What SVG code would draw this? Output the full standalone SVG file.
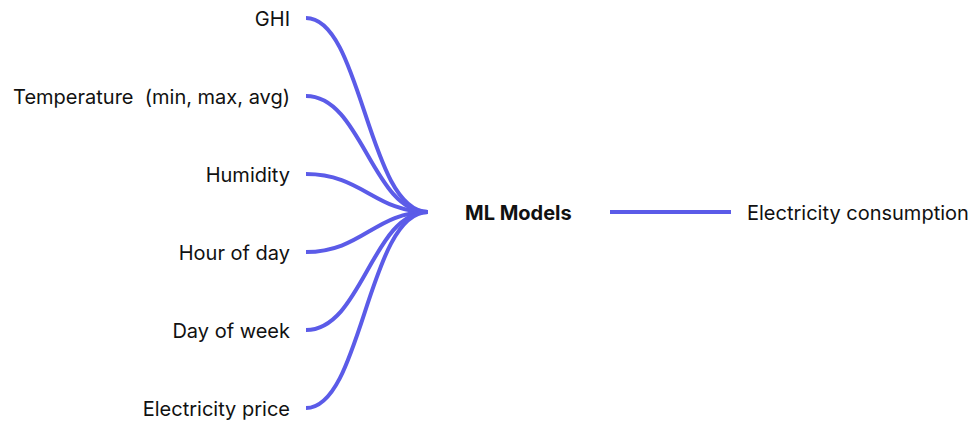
<svg xmlns="http://www.w3.org/2000/svg" width="971" height="423" viewBox="0 0 971 423">
<style>
text{font-family:Inter,"Liberation Sans",sans-serif;font-size:20px;fill:#111;white-space:pre}
.in{text-anchor:end}
.b{font-weight:700}
.c{fill:none;stroke:#5B5BE8;stroke-width:4;stroke-linecap:butt}
</style>
<rect width="971" height="423" fill="#fff"/>
<g id="connectors">
<path class="c" d="M306,18 C362,18 368,212 428,212"/>
<path class="c" d="M306,96 C362,96 372,212 428,212"/>
<path class="c" d="M306,174 C362,174 375,212 428,212"/>
<path class="c" d="M306,252 C362,252 375,212 428,212"/>
<path class="c" d="M306,330 C362,330 372,212 428,212"/>
<path class="c" d="M306,408 C362,408 368,212 428,212"/>
<path class="c" d="M610,212 L731,212"/>
</g>
<g id="ghi"><text class="in" x="290" y="26">GHI</text></g>
<g id="temperature"><text class="in" x="290" y="104">Temperature  (min, max, avg)</text></g>
<g id="humidity"><text class="in" x="290" y="182">Humidity</text></g>
<g id="hour"><text class="in" x="290" y="260">Hour of day</text></g>
<g id="day"><text class="in" x="290" y="338">Day of week</text></g>
<g id="price"><text class="in" x="290" y="416">Electricity price</text></g>
<g id="ml"><text class="b" x="465" y="220">ML Models</text></g>
<g id="out"><text x="747" y="220">Electricity consumption</text></g>
</svg>
